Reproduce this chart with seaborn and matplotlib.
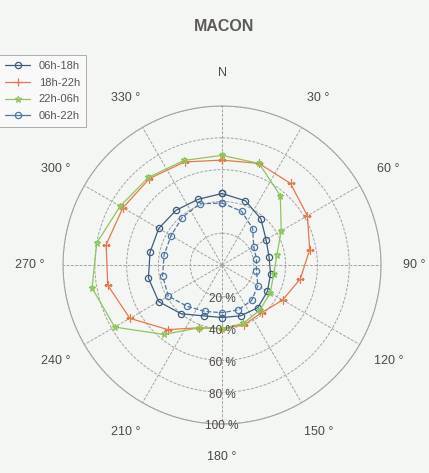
import numpy as np
import pandas as pd
import matplotlib
matplotlib.use("Agg")
import matplotlib.pyplot as plt
import seaborn as sns

# Wind-direction sectors (degrees, clockwise from north)
directions = [0, 20, 40, 60, 80, 100, 120, 140, 160, 180, 200, 220, 240, 260, 280, 300, 320, 340]

# Share of time per sector (%) for each period of the day
day_06_18 = [45, 43, 38, 32, 30, 31, 33, 35, 34, 33, 34, 40, 46, 47, 46, 46, 45, 44]
evening_18_22 = [66, 68, 67, 62, 56, 50, 44, 39, 40, 40, 42, 53, 67, 73, 74, 72, 71, 69]
night_22_06 = [69, 68, 57, 43, 35, 33, 35, 37, 39, 40, 42, 57, 78, 83, 80, 74, 72, 70]
day_06_22 = [39, 36, 30, 23, 22, 22, 26, 29, 30, 30, 31, 34, 39, 38, 37, 37, 39, 41]

series_labels = ["06h-18h", "18h-22h", "22h-06h", "06h-22h"]
ring_values = [20, 40, 60, 80, 100]
angle_ticks = [0, 30, 60, 90, 120, 150, 180, 210, 240, 270, 300, 330]
angle_labels = ["N", "30 °", "60 °", "90 °", "120 °", "150 °", "180 °",
                "210 °", "240 °", "270 °", "300 °", "330 °"]

styles = [
    dict(color="#3d5c7c", marker="o", linestyle="-", ms=4.5, mfc="none"),
    dict(color="#e8784a", marker="+", linestyle="-", ms=6, mfc="none"),
    dict(color="#8cc65e", marker="*", linestyle="-", ms=4.5, mfc="none"),
    dict(color="#4d76a2", marker="o", linestyle="--", ms=4.5, mfc="none"),
]

sns.set_theme(style="white")
plt.rcParams["font.family"] = ["Liberation Sans", "DejaVu Sans"]

bg = "#f4f6f3"
fig = plt.figure(figsize=(4.29, 4.73), dpi=100, facecolor=bg)
ax = fig.add_axes([0.1469, 0.1035, 0.7413, 0.6723], projection="polar")
ax.set_facecolor(bg)
ax.set_theta_zero_location("N")
ax.set_theta_direction(-1)

frames = []
for label, vals in zip(series_labels, [day_06_18, evening_18_22, night_22_06, day_06_22]):
    d = directions + [directions[0] + 360]
    v = vals + [vals[0]]
    frames.append(pd.DataFrame({"theta": np.deg2rad(d), "r": v, "period": label}))
data = pd.concat(frames, ignore_index=True)

handles = []
for label, st in zip(series_labels, styles):
    sub = data[data["period"] == label]
    sns.lineplot(data=sub, x="theta", y="r", ax=ax, sort=False, estimator=None,
                 color=st["color"], linewidth=0.9, linestyle=st["linestyle"],
                 marker=st["marker"], markersize=st["ms"],
                 markerfacecolor=st["mfc"], markeredgecolor=st["color"],
                 markeredgewidth=0.9, legend=False)
    h, = ax.plot([], [], color=st["color"], linewidth=0.9, linestyle="-",
                 marker=st["marker"], markersize=st["ms"], markerfacecolor=st["mfc"],
                 markeredgecolor=st["color"], markeredgewidth=0.9, label=label)
    handles.append(h)

ax.set_ylim(0, 100)
ax.set_xlabel("")
ax.set_ylabel("")
ax.set_rticks(ring_values)
ax.set_yticklabels([])
ax.set_xticks(np.deg2rad(angle_ticks))
ax.set_xticklabels([])
ax.grid(True, color="#a3a3a3", linewidth=0.7, linestyle=(0, (3, 1.5)))
ax.spines["polar"].set_color("#a3a3a3")
ax.spines["polar"].set_linewidth(0.8)

# Direction labels outside the outer ring
for a, lab in zip(angle_ticks, angle_labels):
    ax.text(np.deg2rad(a), 121, lab, ha="center", va="center",
            fontsize=9, color="#4a4a4a", clip_on=False)

# Ring labels along the southern spoke
for r in ring_values:
    ax.text(np.pi, r + 1.5, f"{r} %", ha="center", va="center",
            fontsize=8.5, color="#4a4a4a", clip_on=False)

fig.text(0.522, 0.945, "MACON", ha="center", va="center", fontsize=11.5,
         fontweight="bold", color="#5a5a5a")

leg = fig.legend(handles=handles, loc="upper right",
                 bbox_to_anchor=(86 / 429, 1 - 55 / 473),
                 fontsize=8, frameon=True, fancybox=False, handlelength=2.2,
                 handletextpad=0.8, borderpad=0.55, labelspacing=0.6,
                 borderaxespad=0)
leg.get_frame().set_edgecolor("#999999")
leg.get_frame().set_linewidth(0.7)
leg.get_frame().set_facecolor("#fafbfa")
for t in leg.get_texts():
    t.set_color("#555555")

fig.savefig("out.png", dpi=100, facecolor=bg)
